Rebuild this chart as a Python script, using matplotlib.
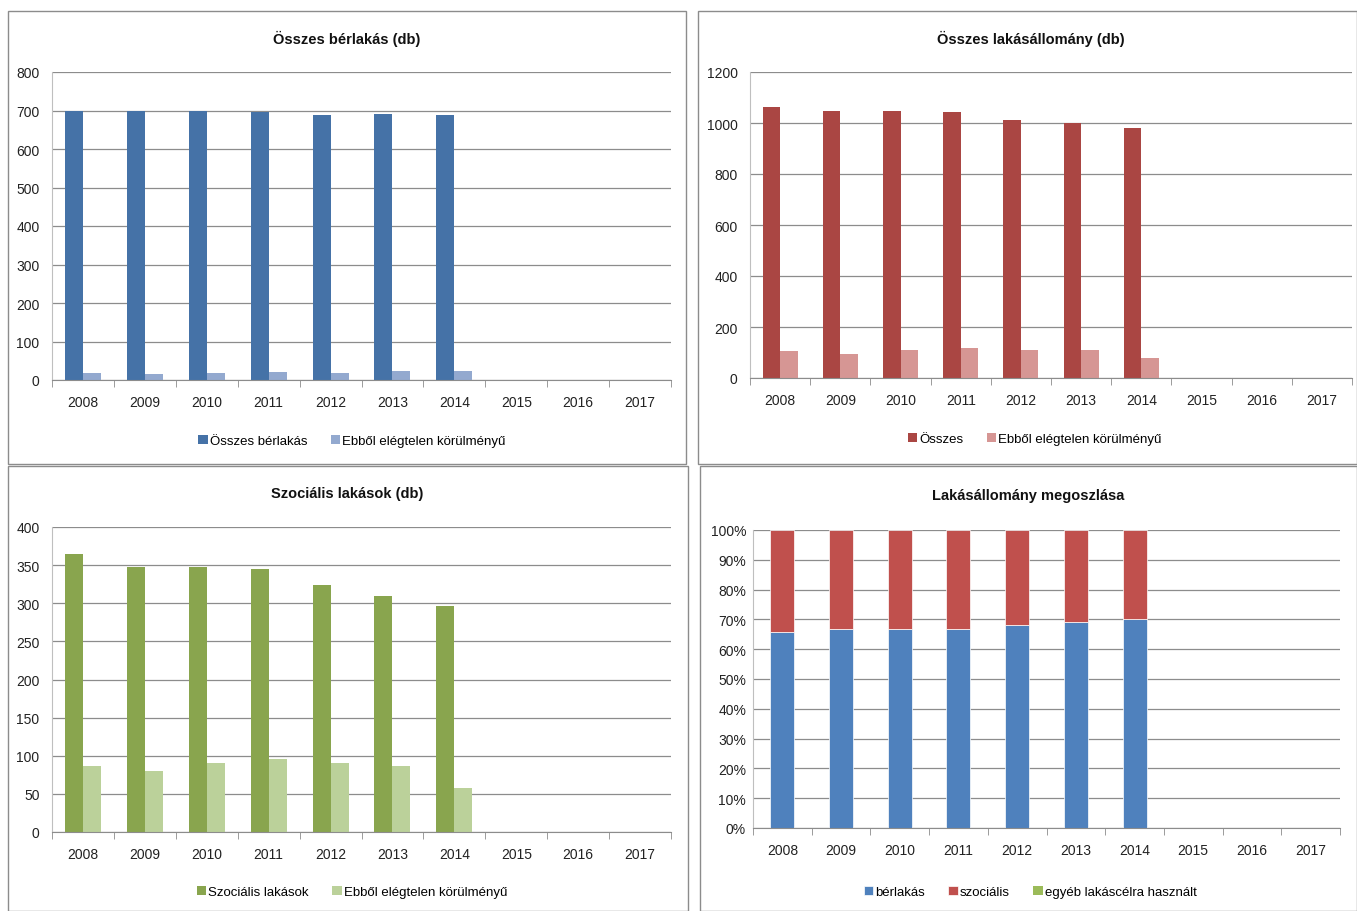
import numpy as np
import matplotlib
matplotlib.use('Agg')
import matplotlib.pyplot as plt
from matplotlib.patches import Rectangle
from matplotlib.ticker import FuncFormatter

plt.rcParams['font.family'] = ['Liberation Sans', 'DejaVu Sans']

years = ['2008', '2009', '2010', '2011', '2012', '2013', '2014', '2015', '2016', '2017']

# Összes bérlakás (db)
berlakas_osszes = [700, 700, 700, 697, 688, 690, 688]
berlakas_elegtelen = [18, 15, 18, 20, 17, 23, 23]

# Összes lakásállomány (db)
allomany_osszes = [1062, 1048, 1048, 1042, 1012, 1000, 982]
allomany_elegtelen = [107, 96, 110, 116, 110, 110, 80]

# Szociális lakások (db)
szocialis_osszes = [364, 348, 348, 345, 324, 310, 297]
szocialis_elegtelen = [87, 80, 90, 96, 90, 87, 58]

# Lakásállomány megoszlása (%)
megoszlas_berlakas = [65.9, 66.8, 66.8, 66.9, 68.0, 69.0, 70.0]
megoszlas_szocialis = [34.1, 33.2, 33.2, 33.1, 32.0, 31.0, 30.0]
megoszlas_egyeb = [0, 0, 0, 0, 0, 0, 0]

W, H = 1357, 912
fig = plt.figure(figsize=(W / 100, H / 100), dpi=100)


def px_axes(x0, y0, x1, y1):
    # pixel box (top-left origin) -> figure axes
    return fig.add_axes([x0 / W, 1 - y1 / H, (x1 - x0) / W, (y1 - y0) / H])


def panel(x0, y0, x1, y1):
    fig.patches.append(Rectangle((x0 / W, 1 - y1 / H), (x1 - x0) / W, (y1 - y0) / H,
                                 transform=fig.transFigure, fill=False,
                                 edgecolor='#8c8c8c', linewidth=1.0))


def style_axes(ax, ylim, step):
    ax.set_xlim(-0.5, len(years) - 0.5)
    ax.set_ylim(0, ylim)
    ax.set_yticks(np.arange(0, ylim + step / 2, step))
    ax.set_xticks(range(len(years)))
    ax.set_xticklabels(years)
    ax.set_xticks(np.arange(-0.5, len(years) + 0.5, 1), minor=True)
    ax.tick_params(axis='x', which='major', length=0, pad=11, labelsize=10, colors='#222222')
    ax.tick_params(axis='x', which='minor', length=5, color='#8c8c8c', direction='out')
    ax.tick_params(axis='y', length=0, pad=9, labelsize=10, colors='#222222')
    ax.grid(axis='y', color='#8c8c8c', linewidth=0.9)
    ax.set_axisbelow(True)
    for s in ['top', 'right']:
        ax.spines[s].set_visible(False)
    ax.spines['left'].set_color('#bfbfbf')
    ax.spines['bottom'].set_color('#8c8c8c')


def legend(ax, handles, labels, cx, cy):
    fig.legend(handles, labels, loc='center', bbox_to_anchor=(cx / W, 1 - cy / H),
               ncol=len(labels), frameon=False, fontsize=9.5, handlelength=0.7,
               handleheight=0.7, handletextpad=0.15, columnspacing=1.8)


def title(text, cx, cy):
    fig.text(cx / W, 1 - cy / H, text, ha='center', va='center',
             fontsize=10.5, fontweight='bold', color='#111111')


bw = 0.29
x7 = np.arange(len(berlakas_osszes))

# --- top-left
panel(8, 12, 686, 465)
ax1 = px_axes(52, 73, 671, 381)
b1 = ax1.bar(x7 - bw / 2, berlakas_osszes, bw, color='#4572A7')
b2 = ax1.bar(x7 + bw / 2, berlakas_elegtelen, bw, color='#93A9CF')
style_axes(ax1, 800, 100)
title('Összes bérlakás (db)', 347, 39)
legend(ax1, [b1, b2], ['Összes bérlakás', 'Ebből elégtelen körülményű'], 352, 442)

# --- top-right
panel(698, 12, 1357, 465)
ax2 = px_axes(750, 73, 1352, 379)
b1 = ax2.bar(x7 - bw / 2, allomany_osszes, bw, color='#AA4643')
b2 = ax2.bar(x7 + bw / 2, allomany_elegtelen, bw, color='#D69694')
style_axes(ax2, 1200, 200)
title('Összes lakásállomány (db)', 1031, 39)
legend(ax2, [b1, b2], ['Összes', 'Ebből elégtelen körülményű'], 1035, 440)

# --- bottom-left
panel(8, 467, 688, 912)
ax3 = px_axes(52, 528, 671, 833)
b1 = ax3.bar(x7 - bw / 2, szocialis_osszes, bw, color='#89A54E')
b2 = ax3.bar(x7 + bw / 2, szocialis_elegtelen, bw, color='#BBD19A')
style_axes(ax3, 400, 50)
title('Szociális lakások (db)', 347, 494)
legend(ax3, [b1, b2], ['Szociális lakások', 'Ebből elégtelen körülményű'], 352, 893)

# --- bottom-right
panel(700, 467, 1357, 912)
ax4 = px_axes(753, 531, 1340, 829)
bw4 = 0.41
c1 = ax4.bar(x7, megoszlas_berlakas, bw4, color='#4F81BD', edgecolor='white', linewidth=0.5)
c2 = ax4.bar(x7, megoszlas_szocialis, bw4, bottom=megoszlas_berlakas, color='#C0504D',
             edgecolor='white', linewidth=0.5)
bottom3 = np.array(megoszlas_berlakas) + np.array(megoszlas_szocialis)
c3 = ax4.bar(x7, megoszlas_egyeb, bw4, bottom=bottom3, color='#9BBB59')
style_axes(ax4, 100, 10)
ax4.yaxis.set_major_formatter(FuncFormatter(lambda v, p: f'{v:.0f}%'))
ax4.tick_params(axis='y', pad=5)
title('Lakásállomány megoszlása', 1028, 496)
legend(ax4, [c1, c2, c3], ['bérlakás', 'szociális', 'egyéb lakáscélra használt'], 1030, 893)

fig.savefig('out.png', dpi=100, facecolor='white')
